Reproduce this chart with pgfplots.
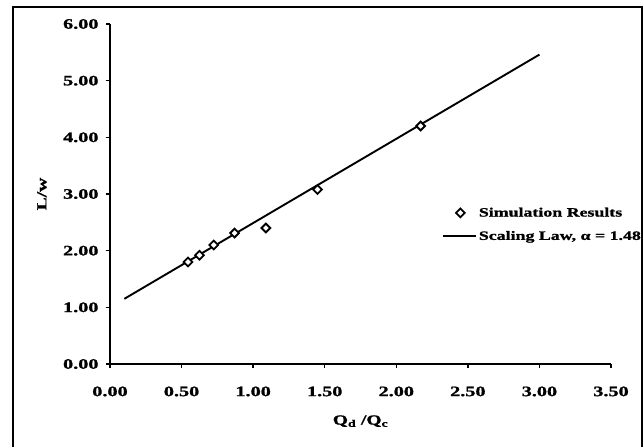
\documentclass[border=0pt]{standalone}
\usepackage{fontspec}
\setmainfont{Liberation Serif}[FakeStretch=1.4,BoldFeatures={FakeStretch=1.4,FakeBold=1.2}]
\usepackage{pgfplots}
\pgfplotsset{compat=1.18}

\begin{document}
\begin{tikzpicture}
    \useasboundingbox (0bp,0bp) rectangle (644bp,447bp);
    % outer chart frame (bottom edge falls outside the picture)
    \draw[line width=1.8bp] (12.7bp,0bp) -- (12.7bp,440.3bp) -- (641.7bp,440.3bp) -- (641.7bp,0bp);

    \begin{axis}[
        at={(110bp,83bp)}, anchor=origin,
        width=501bp, height=340bp,
        scale only axis,
        xmin=0, xmax=3.5,
        ymin=0, ymax=6,
        enlargelimits=false,
        xtick={0,0.5,...,3.5},
        ytick={0,1,...,6},
        axis x line*=bottom,
        axis y line*=left,
        axis line style={-, line width=1.6bp},
        tick align=outside,
        major tick length=4bp,
        tick style={line width=1.4bp, black},
        /pgf/number format/.cd, fixed, fixed zerofill, precision=2, assume math mode=true,
        /pgfplots/.cd,
        tick label style={font=\fontsize{14.5}{16}\selectfont\bfseries},
        xticklabel style={yshift=-15bp},
        yticklabel style={xshift=-4bp},
        xlabel={Q\textsubscript{d} /Q\textsubscript{c}},
        ylabel={L/w},
        label style={font=\fontsize{14}{16}\selectfont\bfseries},
        xlabel style={at={(axis description cs:0.5,-0.168)}, anchor=center},
        ylabel style={at={(axis description cs:-0.136,0.5)}, anchor=center},
        clip=false,
        legend style={draw=none, fill=none, at={(1.07,0.472)}, anchor=north east,
            font=\fontsize{12.8}{15}\selectfont\bfseries, row sep=9bp,
            /tikz/every even column/.append style={column sep=1bp}},
        legend cell align=left,
    ]
        \addplot[only marks, mark=square*, mark size=3.1bp,
                 mark options={rotate=45, fill=white, draw=black, line width=1.8bp}]
            coordinates {
            (0.545, 1.80)
            (0.625, 1.92)
            (0.725, 2.10)
            (0.870, 2.31)
            (1.089, 2.40)
            (1.450, 3.08)
            (2.170, 4.20)
        };
        \addlegendentry{Simulation Results}
        \addplot[black, line width=1.9bp, mark=none,
                 legend image code/.code={\draw[black, line width=1.9bp] (-9bp,0bp) -- (24bp,0bp);}]
            coordinates {
            (0.10, 1.15)
            (3.00, 5.46)
        };
        \addlegendentry{Scaling Law, α = 1.48}
    \end{axis}
\end{tikzpicture}
\end{document}
